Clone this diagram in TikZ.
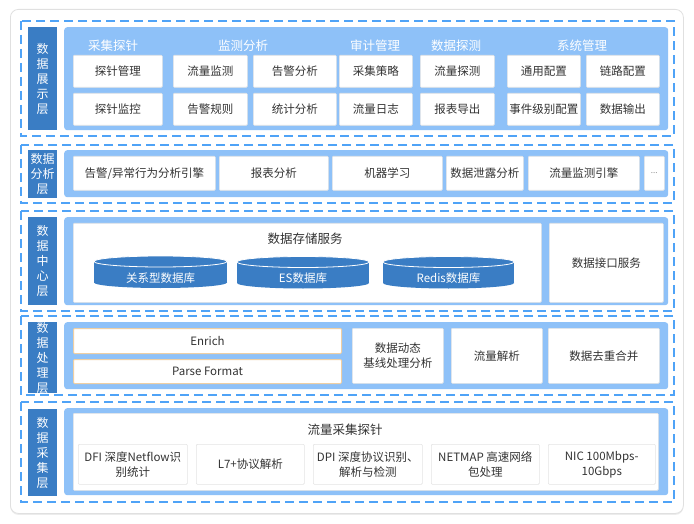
\documentclass[tikz,border=0pt]{standalone}
\usepackage{fontspec}
\setmainfont{Noto Sans CJK SC}
\usetikzlibrary{shadows}
\definecolor{dkblue}{HTML}{3A7DC4}
\definecolor{panelc}{HTML}{8EC1F8}
\definecolor{dashc}{HTML}{4FA3F7}
\definecolor{txt}{HTML}{333333}
\definecolor{boxln}{HTML}{E4E4E4}
\definecolor{tan}{HTML}{EFCFA3}
\tikzset{
  card/.style={draw=black!12,fill=white,rounded corners=8pt,line width=0.8pt,
    drop shadow={shadow xshift=0pt,shadow yshift=-1.5pt,opacity=0.15}},
  layerframe/.style={draw=dashc,line width=1.3pt,dash pattern=on 9pt off 5pt},
  lbl/.style={fill=dkblue,text=white,align=center,font=\fontsize{12}{15}\selectfont},
  panel/.style={fill=panelc,rounded corners=3pt},
  box/.style={fill=white,draw=boxln,line width=0.6pt,text=txt,align=center,
    font=\fontsize{11.5}{15}\selectfont,rounded corners=1pt},
  tanbox/.style={box,draw=tan,line width=1pt},
  cat/.style={text=white,font=\fontsize{12.5}{15}\selectfont},
  ttl/.style={text=txt,font=\fontsize{12.5}{15}\selectfont},
  cyltext/.style={text=white,font=\fontsize{11.5}{15}\selectfont},
}
\newcommand\bx[7]{\node[#1,anchor=north west,inner sep=0pt,minimum width={#5-#3},minimum height={#6-#4}] (#2) at (#3,#4) {#7};}
\newcommand\cyl[6]{% name x1 x2 ytop ybot text
  \fill[dkblue] (#2,#4) rectangle (#3,#5);
  \fill[dkblue] ({(#2+#3)/2},#5) ellipse [x radius={(#3-#2)/2},y radius=5.5];
  \draw[white,fill=dkblue,line width=0.8pt] ({(#2+#3)/2},#4) ellipse [x radius={(#3-#2)/2},y radius=5.5];
  \node[cyltext] (#1) at ({(#2+#3)/2},{(#4+#5)/2+6}) {#6};}
\begin{document}
\begin{tikzpicture}[x=1pt,y=-1pt]
\useasboundingbox (0,0) rectangle (694,524);
\fill[white] (0,0) rectangle (694,524);
\node[card,anchor=north west,minimum width=673,minimum height=504,inner sep=0pt] (cardbg) at (10,9) {};

% ===== Layer 1 =====
\draw[layerframe] (21,21) rectangle (674,136);
\bx{lbl}{l1}{28}{27}{57}{130}{数\\据\\展\\示\\层}
\bx{panel}{p1}{64}{27}{668}{130}{}
\node[cat] (c1) at (113,46) {采集探针};
\node[cat] (c2) at (243,46) {监测分析};
\node[cat] (c3) at (375,46) {审计管理};
\node[cat] (c4) at (456,46) {数据探测};
\node[cat] (c5) at (582,46) {系统管理};
\bx{box}{a1}{73}{55}{162}{87}{探针管理}
\bx{box}{a2}{73}{93}{162}{125}{探针监控}
\bx{box}{b1}{173}{55}{247}{87}{流量监测}
\bx{box}{b2}{173}{93}{247}{125}{告警规则}
\bx{box}{c1b}{253}{55}{336}{87}{告警分析}
\bx{box}{c2b}{253}{93}{336}{125}{统计分析}
\bx{box}{d1}{339}{55}{412}{87}{采集策略}
\bx{box}{d2}{339}{93}{412}{125}{流量日志}
\bx{box}{e1}{420}{55}{494}{87}{流量探测}
\bx{box}{e2}{420}{93}{494}{125}{报表导出}
\bx{box}{f1}{507}{55}{580}{87}{通用配置}
\bx{box}{f2}{507}{93}{580}{125}{事件级别配置}
\bx{box}{g1}{586}{55}{659}{87}{链路配置}
\bx{box}{g2}{586}{93}{659}{125}{数据输出}

% ===== Layer 2 =====
\draw[layerframe] (21,145) rectangle (674,203);
\bx{lbl}{l2}{28}{150}{57}{198}{数据\\分析\\层}
\bx{panel}{p2}{64}{150}{668}{197}{}
\bx{box}{h1}{73}{156}{215}{190}{告警/异常行为分析引擎}
\bx{box}{h2}{219}{156}{328}{190}{报表分析}
\bx{box}{h3}{332}{156}{442}{190}{机器学习}
\bx{box}{h4}{446}{156}{523}{190}{数据泄露分析}
\bx{box}{h5}{528}{156}{639}{190}{流量监测引擎}
\bx{box}{h6}{644}{156}{664}{190}{\fontsize{8}{10}\selectfont\color{black!45}...}

% ===== Layer 3 =====
\draw[layerframe] (21,211) rectangle (674,311);
\bx{lbl}{l3}{28}{217}{57}{305}{数\\据\\中\\心\\层}
\bx{panel}{p3}{64}{217}{668}{305}{}
\bx{box}{store}{73}{223}{541}{302}{}
\node[ttl] (storet) at (305,239) {数据存储服务};
\cyl{db1}{94}{227}{261.5}{282.5}{关系型数据库}
\cyl{db2}{237}{369}{262}{283}{ES数据库}
\cyl{db3}{383}{514}{262}{283}{Redis数据库}
\bx{box}{iface}{549}{223}{663}{302}{数据接口服务}

% ===== Layer 4 =====
\draw[layerframe] (21,316) rectangle (674,395);
\bx{lbl}{l4}{28}{322}{57}{389}{数\\据\\处\\理\\层}
\bx{panel}{p4}{64}{322}{668}{389}{}
\bx{tanbox}{enrich}{73}{328}{341}{353}{Enrich}
\bx{tanbox}{parse}{73}{359}{341}{383}{Parse Format}
\bx{box}{base}{352}{328}{443}{383}{数据动态\\基线处理分析}
\bx{box}{flow}{451}{328}{542}{383}{流量解析}
\bx{box}{dedup}{548}{328}{659}{383}{数据去重合并}

% ===== Layer 5 =====
\draw[layerframe] (21,402) rectangle (674,502);
\bx{lbl}{l5}{28}{409}{57}{496}{数\\据\\采\\集\\层}
\bx{panel}{p5}{64}{408}{668}{495}{}
\bx{box}{probe}{73}{413}{658}{490}{}
\node[ttl] (probet) at (345,430) {流量采集探针};
\bx{box}{s1}{78}{444}{187}{484}{DFI 深度Netflow识\\别统计}
\bx{box}{s2}{196}{444}{304}{484}{L7+协议解析}
\bx{box}{s3}{313}{444}{422}{484}{DPI 深度协议识别、\\解析与检测}
\bx{box}{s4}{431}{444}{539}{484}{NETMAP 高速网络\\包处理}
\bx{box}{s5}{548}{444}{655}{484}{NIC 100Mbps-\\10Gbps}
\end{tikzpicture}
\end{document}
